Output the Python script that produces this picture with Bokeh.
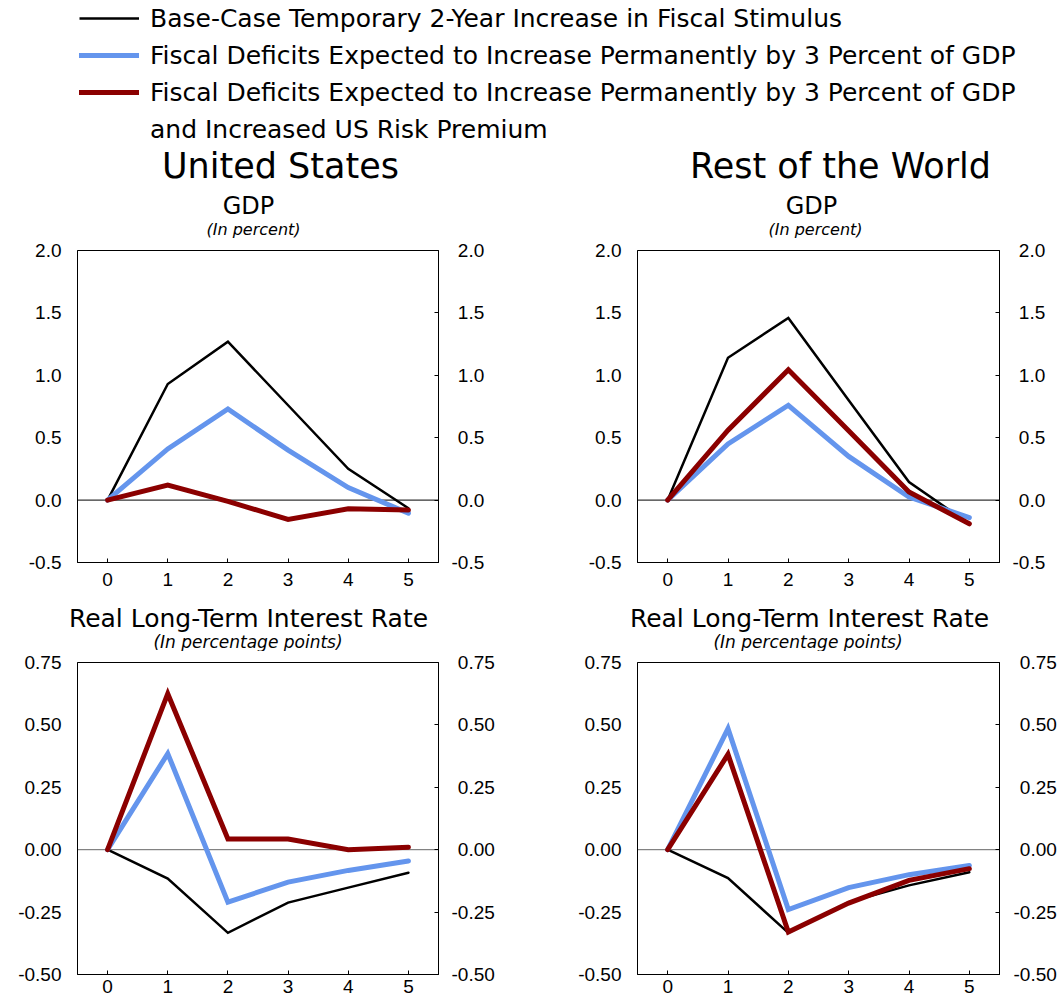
from bokeh.plotting import figure
from bokeh.models import (Range1d, FixedTicker, PrintfTickFormatter, CustomJSTickFormatter,
                          LinearAxis, Span, Label, Legend, LegendItem)
from bokeh.layouts import column, row
from bokeh.embed import file_html
from bokeh.resources import INLINE

FONT = "Liberation Sans"
TFONT = "DejaVu Sans"
BLACK = "#000000"
BLUE = "#6495ED"
RED = "#8B0000"
NAN = float("nan")

# ---------------- data ----------------
years = [0, 1, 2, 3, 4, 5]

us_gdp_base = [0.0, 0.93, 1.27, 0.76, 0.25, -0.065]
us_gdp_perm = [0.0, 0.41, 0.73, 0.40, 0.10, -0.105]
us_gdp_risk = [0.0, 0.12, -0.01, -0.155, -0.07, -0.08]

row_gdp_base = [0.0, 1.14, 1.46, 0.80, 0.145, -0.19]
row_gdp_perm = [0.0, 0.45, 0.76, 0.35, 0.025, -0.14]
row_gdp_risk = [0.0, 0.56, 1.045, 0.555, 0.065, -0.19]

us_rate_base = [0.0, -0.116, -0.333, -0.212, -0.152, -0.092]
us_rate_perm = [0.0, 0.385, -0.21, -0.13, -0.083, -0.045]
us_rate_risk = [0.0, 0.625, 0.043, 0.043, 0.0, 0.01]

row_rate_base = [0.0, -0.114, -0.333, -0.21, -0.143, -0.09]
row_rate_perm = [0.0, 0.485, -0.24, -0.152, -0.10, -0.063]
row_rate_risk = [0.0, 0.382, -0.33, -0.214, -0.123, -0.076]

gdp_ticks = [-0.5, 0.0, 0.5, 1.0, 1.5, 2.0]
rate_ticks = [-0.5, -0.25, 0.0, 0.25, 0.5, 0.75]

legend_labels = [
    "Base-Case Temporary 2-Year Increase in Fiscal Stimulus",
    "Fiscal Deficits Expected to Increase Permanently by 3 Percent of GDP",
    "Fiscal Deficits Expected to Increase Permanently by 3 Percent of GDP",
    "and Increased US Risk Premium",
]

W = 1061
FH = 312


def blank_fig(height, y_top, y_bottom):
    f = figure(width=W, height=height, toolbar_location=None, output_backend="svg",
               x_axis_type=None, y_axis_type=None, min_border=0,
               x_range=Range1d(0, W), y_range=Range1d(y_bottom, y_top))
    f.outline_line_color = None
    f.grid.visible = False
    return f


def add_text(f, txt, x, y, size, style="normal"):
    f.add_layout(Label(x=x, y=y, text=txt, text_font=TFONT, text_font_size=size,
                       text_font_style=style, text_align="center",
                       text_baseline="middle", text_color=BLACK))


def make_panel(bl, fw, br, bt, bb, yr, yticks, ydec, zero_color,
               series, right_standoff, x_standoff):
    p = figure(frame_width=fw, frame_height=FH,
               min_border_left=bl, min_border_right=br,
               min_border_top=bt, min_border_bottom=bb,
               x_range=Range1d(-0.5, 5.5), y_range=Range1d(*yr),
               toolbar_location=None, output_backend="svg")
    p.grid.visible = False
    p.outline_line_color = BLACK
    p.outline_line_width = 1

    xa = p.xaxis[0]
    xa.ticker = FixedTicker(ticks=years)
    xa.major_tick_in = 4
    xa.major_tick_out = 0
    xa.minor_tick_in = 0
    xa.minor_tick_out = 0
    xa.axis_line_color = BLACK
    xa.major_tick_line_color = BLACK
    xa.major_label_text_font = FONT
    xa.major_label_text_font_size = "19px"
    xa.major_label_text_color = BLACK
    xa.major_label_standoff = x_standoff

    ya = p.yaxis[0]
    ya.ticker = FixedTicker(ticks=yticks)
    ya.formatter = PrintfTickFormatter(format="%%.%df" % ydec)
    ya.major_tick_in = 0
    ya.major_tick_out = 0
    ya.minor_tick_in = 0
    ya.minor_tick_out = 0
    ya.axis_line_color = BLACK
    ya.major_label_text_font = FONT
    ya.major_label_text_font_size = "19px"
    ya.major_label_text_color = BLACK
    ya.major_label_standoff = 16

    ra = LinearAxis(
        ticker=FixedTicker(ticks=yticks),
        formatter=CustomJSTickFormatter(
            code="return (tick < 0 ? '' : '\\u2004') + tick.toFixed(%d);" % ydec),
        major_tick_in=4, major_tick_out=0, minor_tick_in=0, minor_tick_out=0,
        axis_line_color=BLACK, major_tick_line_color=BLACK,
        major_label_text_font=FONT, major_label_text_font_size="19px",
        major_label_text_color=BLACK, major_label_standoff=right_standoff)
    p.add_layout(ra, "right")

    p.add_layout(Span(location=0, dimension="width", line_color=zero_color,
                      line_width=1, level="underlay"))

    for vals, color, width in series:
        p.line(years, vals, line_color=color, line_width=width,
               line_join="miter", line_cap="round")
    return p


def trio(base, perm, risk):
    return [(base, BLACK, 2.5), (perm, BLUE, 5), (risk, RED, 5)]


# ---------------- header: legend + top titles ----------------
HEAD_H = 239
head = blank_fig(HEAD_H, 0, HEAD_H)
r_b = head.line(x=[NAN], y=[NAN], line_color=BLACK, line_width=2.5)
r_p = head.line(x=[NAN], y=[NAN], line_color=BLUE, line_width=5, line_cap="round")
r_r = head.line(x=[NAN], y=[NAN], line_color=RED, line_width=5, line_cap="round")
r_n = head.line(x=[NAN], y=[NAN], line_color=BLACK, line_alpha=0)
legend = Legend(
    items=[LegendItem(label=legend_labels[0], renderers=[r_b]),
           LegendItem(label=legend_labels[1], renderers=[r_p]),
           LegendItem(label=legend_labels[2], renderers=[r_r]),
           LegendItem(label=legend_labels[3], renderers=[r_n])],
    location=(79, HEAD_H - 145), orientation="vertical",
    glyph_width=60, glyph_height=32, label_height=32, label_standoff=11,
    spacing=5, padding=0, margin=0, border_line_color=None,
    background_fill_alpha=0, label_text_font=TFONT,
    label_text_font_size="25px", label_text_color=BLACK)
head.add_layout(legend)

add_text(head, "United States", 280, 165.5, "35px")
add_text(head, "GDP", 248, 205, "24px")
add_text(head, "(In percent)", 253, 229, "16px", "italic")
add_text(head, "Rest of the World", 840, 165.5, "35px")
add_text(head, "GDP", 811, 205, "24px")
add_text(head, "(In percent)", 815, 229, "16px", "italic")

# ---------------- panels ----------------
tl = make_panel(77, 361, 122, 11, 36, (-0.5, 2.0), gdp_ticks, 1, BLACK,
                trio(us_gdp_base, us_gdp_perm, us_gdp_risk), 13, 10)
tr = make_panel(77, 362, 62, 11, 36, (-0.5, 2.0), gdp_ticks, 1, BLACK,
                trio(row_gdp_base, row_gdp_perm, row_gdp_risk), 13, 10)

MID_TOP, MID_BOT = 598, 651
mid = blank_fig(MID_BOT - MID_TOP, MID_TOP, MID_BOT)
add_text(mid, "Real Long-Term Interest Rate", 248, 617.5, "25px")
add_text(mid, "(In percentage points)", 247.5, 641, "17px", "italic")
add_text(mid, "Real Long-Term Interest Rate", 809, 617.5, "25px")
add_text(mid, "(In percentage points)", 807.5, 641, "17px", "italic")

bl_ = make_panel(77, 361, 122, 11, 27, (-0.5, 0.75), rate_ticks, 2, "#666666",
                 trio(us_rate_base, us_rate_perm, us_rate_risk), 13, 5)
br_ = make_panel(77, 362, 62, 11, 27, (-0.5, 0.75), rate_ticks, 2, "#666666",
                 trio(row_rate_base, row_rate_perm, row_rate_risk), 14, 5)

layout = column(head, row(tl, tr), mid, row(bl_, br_))

open("out.html", "w").write(file_html(layout, INLINE))
